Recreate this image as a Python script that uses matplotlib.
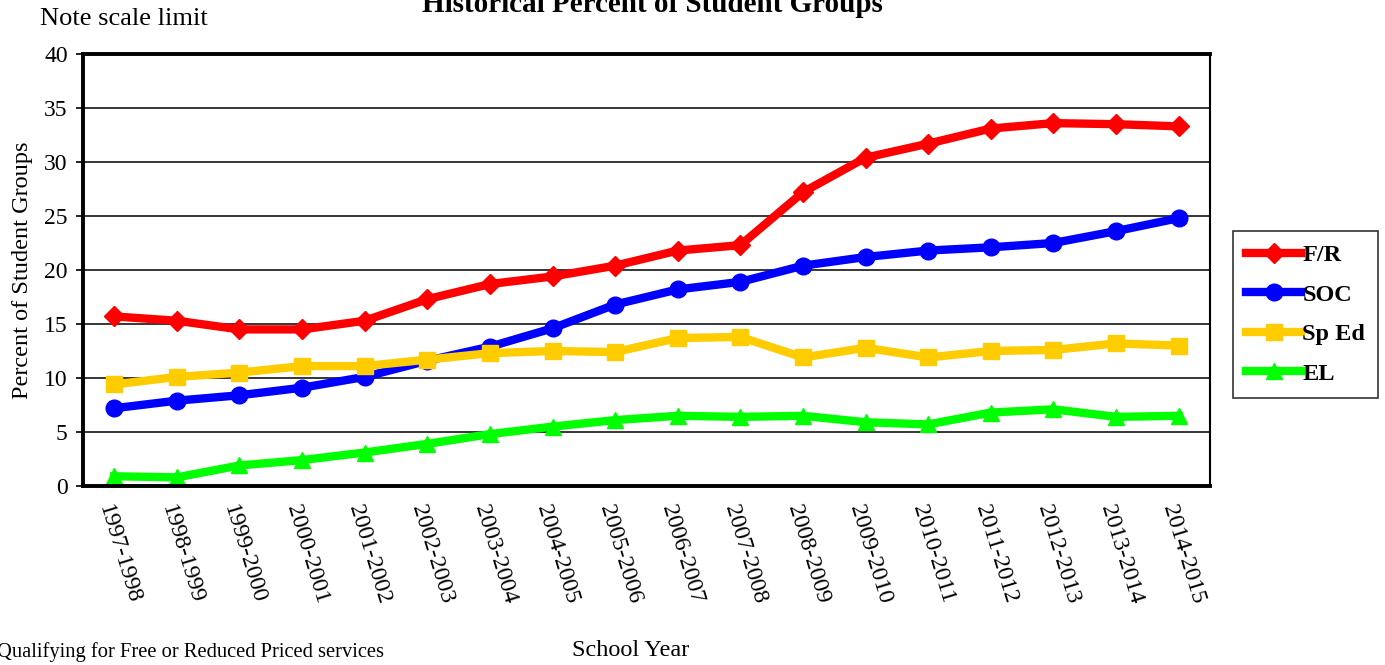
"""Historical percent of student groups by school year."""

import matplotlib.pyplot as plt

plt.rcParams["font.family"] = ["Liberation Serif", "DejaVu Serif"]

years = [
    "1997-1998", "1998-1999", "1999-2000", "2000-2001", "2001-2002", "2002-2003",
    "2003-2004", "2004-2005", "2005-2006", "2006-2007", "2007-2008", "2008-2009",
    "2009-2010", "2010-2011", "2011-2012", "2012-2013", "2013-2014", "2014-2015",
]
fr = [15.7, 15.3, 14.5, 14.5, 15.3, 17.3, 18.7, 19.4, 20.4, 21.8, 22.3, 27.2,
      30.4, 31.7, 33.1, 33.6, 33.5, 33.3]
soc = [7.2, 7.9, 8.4, 9.1, 10.1, 11.6, 12.9, 14.6, 16.8, 18.2, 18.9, 20.4,
       21.2, 21.8, 22.1, 22.5, 23.6, 24.8]
sped = [9.4, 10.1, 10.5, 11.1, 11.1, 11.7, 12.3, 12.5, 12.4, 13.7, 13.8, 11.9,
        12.8, 11.9, 12.5, 12.6, 13.2, 13.0]
el = [0.9, 0.8, 1.9, 2.4, 3.1, 3.9, 4.8, 5.5, 6.1, 6.5, 6.4, 6.5,
      5.9, 5.7, 6.8, 7.1, 6.4, 6.5]

fig = plt.figure(figsize=(13.85, 6.65), dpi=100)
ax = fig.add_axes([0.0599, 0.2692, 0.8137, 0.6496])

x = range(len(years))
ax.plot(x, fr, color="#FF0000", lw=6, marker="D", ms=10, label="F/R")
ax.plot(x, soc, color="#0000FF", lw=6, marker="o", ms=12, label="SOC")
ax.plot(x, sped, color="#FFCC00", lw=6, marker="s", ms=12, label="Sp Ed")
ax.plot(x, el, color="#00FF00", lw=6, marker="^", ms=12, label="EL")

ax.set_xlim(-0.5, len(years) - 0.5)
ax.set_ylim(0, 40)
ax.set_yticks(range(0, 41, 5))
ax.yaxis.grid(True, color="black", lw=1.1)
ax.set_axisbelow(True)
ax.set_xticks(list(x))
ax.set_xticklabels(years, rotation=-73, ha="left", va="top",
                   rotation_mode="anchor", fontsize=17)
ax.tick_params(axis="x", length=0, pad=12)
ax.tick_params(axis="y", labelsize=17, length=5, width=1.2, direction="out", pad=6)

for side in ["left", "bottom", "top"]:
    ax.spines[side].set_linewidth(2.8)
ax.spines["right"].set_linewidth(1.5)

ax.set_ylabel("Percent of Student Groups", fontsize=17.5, labelpad=8)

leg = ax.legend(loc="center left", bbox_to_anchor=(1.0204, 0.397), frameon=True,
                fancybox=False, edgecolor="black", handlelength=2.25,
                handletextpad=0.05, labelspacing=0.72, borderpad=0.55,
                borderaxespad=0, prop={"weight": "bold", "size": 17.5})
leg.get_frame().set_linewidth(1.2)

fig.text(0.471, 0.993, "Historical Percent of Student Groups", ha="center",
         va="center", fontsize=21, fontweight="bold")
fig.text(0.029, 0.972, "Note scale limit", ha="left", va="center", fontsize=19)
fig.text(0.4556, 0.022, "School Year", ha="center", va="center", fontsize=17.5)
fig.text(0.277, 0.019, "Qualifying for Free or Reduced Priced services",
         ha="right", va="center", fontsize=14.8)

fig.savefig("out.png", dpi=100)
